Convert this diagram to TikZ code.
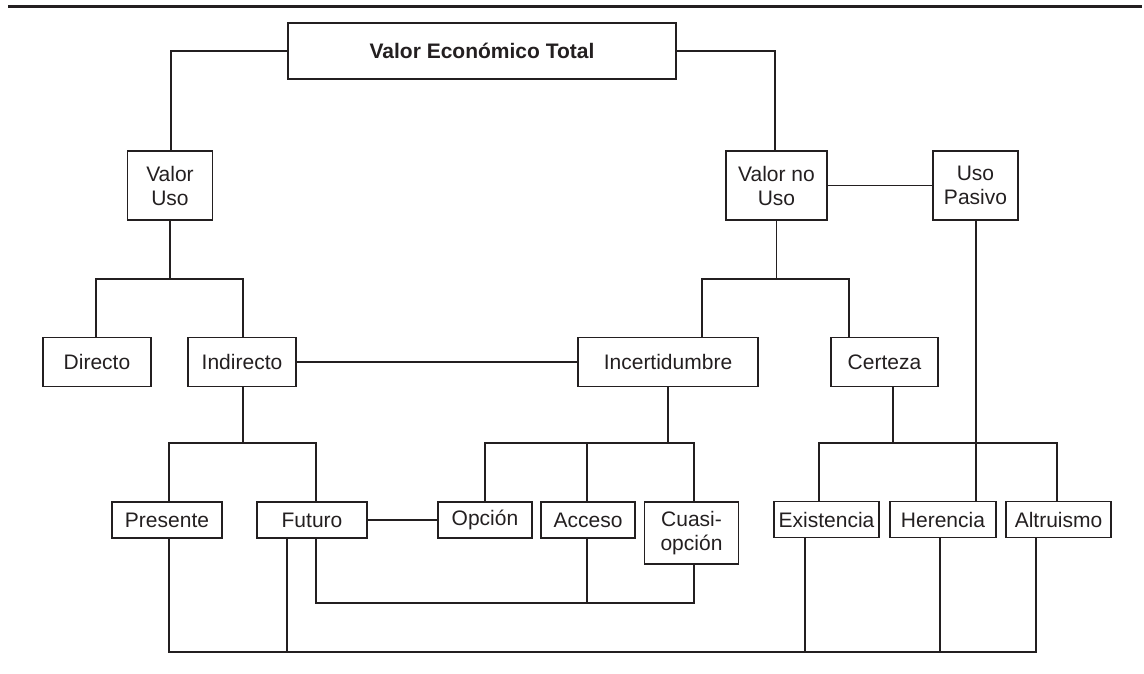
\documentclass[tikz,border=0pt]{standalone}
\usepackage{fontspec}
\setmainfont{Liberation Sans}
\definecolor{ink}{HTML}{231F20}
\begin{document}
\begin{tikzpicture}[x=1pt,y=-1pt,
  box/.style={draw=ink, line width=1.6pt, rectangle, inner sep=0pt, align=center, text=ink,
              font=\fontsize{21}{24}\selectfont},
  conn/.style={draw=ink, line width=1.6pt, line join=miter},
  rule/.style={draw=ink, line width=3pt}]
\useasboundingbox (0,0) rectangle (1144,674);
% top rule
\coordinate (r1) at (8,7);
\coordinate (r2) at (1142,7);
\draw[rule] (r1) -- (r2);
% nodes
\node[box, minimum width=388pt, minimum height=56pt, font=\bfseries\fontsize{21}{24}\selectfont] (vet) at (482,51) {Valor Económico Total};
\node[box, minimum width=85pt, minimum height=69pt] (vuso) at (170,185.5) {Valor\\Uso};
\node[box, minimum width=101pt, minimum height=69pt] (vnouso) at (776.5,185.5) {Valor no\\Uso};
\node[box, minimum width=85pt, minimum height=69pt] (upasivo) at (975.5,185.5) {Uso\\Pasivo};
\node[box, minimum width=108pt, minimum height=49pt] (directo) at (97,362) {Directo};
\node[box, minimum width=108pt, minimum height=49pt] (indirecto) at (242,362) {Indirecto};
\node[box, minimum width=180pt, minimum height=49pt] (incert) at (668,362) {Incertidumbre};
\node[box, minimum width=107pt, minimum height=49pt] (certeza) at (884.5,362) {Certeza};
\node[box, minimum width=110pt, minimum height=36pt] (presente) at (167,520) {Presente};
\node[box, minimum width=110pt, minimum height=36pt] (futuro) at (312,520) {Futuro};
\node[box, minimum width=94pt, minimum height=36pt] (opcion) at (485,520) {Opción};
\node[box, minimum width=94pt, minimum height=36pt] (acceso) at (588,520) {Acceso};
\node[box, minimum width=94pt, minimum height=62pt] (cuasi) at (691.5,533) {Cuasi-\\opción};
\node[box, minimum width=105pt, minimum height=36pt] (existencia) at (826.5,519.5) {Existencia};
\node[box, minimum width=106pt, minimum height=36pt] (herencia) at (943,519.5) {Herencia};
\node[box, minimum width=105pt, minimum height=36pt] (altruismo) at (1058.5,519.5) {Altruismo};
% junction coordinates
\coordinate (jl) at (171,51);
\coordinate (jr) at (775,51);
\coordinate (a1) at (96,279);
\coordinate (a2) at (243,279);
\coordinate (b1) at (702,279);
\coordinate (b2) at (849,279);
\coordinate (c1) at (169,443);
\coordinate (c2) at (316,443);
\coordinate (d1) at (485,443);
\coordinate (d2) at (587,443);
\coordinate (d3) at (694,443);
\coordinate (k1) at (893,443);
\coordinate (e1) at (819,443);
\coordinate (e2) at (976,443);
\coordinate (e3) at (1057,443);
\coordinate (f1) at (316,603);
\coordinate (f2) at (587,603);
\coordinate (f3) at (694,603);
\coordinate (g1) at (169,652);
\coordinate (g2) at (287,652);
\coordinate (g3) at (805,652);
\coordinate (g4) at (940,652);
\coordinate (g5) at (1036,652);
% level 1
\draw[conn] (vet.west) -- (jl) -- (jl |- vuso.north);
\draw[conn] (vet.east) -- (jr) -- (jr |- vnouso.north);
\draw[conn] (vnouso) -- (upasivo);
% level 2
\draw[conn] (vuso.south) -- (vuso.south |- a1);
\draw[conn] (a1 |- directo.north) -- (a1) -- (a2) -- (a2 |- indirecto.north);
\draw[conn] (vnouso.south) -- (vnouso.south |- b1);
\draw[conn] (b1 |- incert.north) -- (b1) -- (b2) -- (b2 |- certeza.north);
\draw[conn] (indirecto) -- (incert);
% level 3
\draw[conn] (indirecto.south -| a2) -- (a2 |- c1);
\draw[conn] (c1 |- presente.north) -- (c1) -- (c2) -- (c2 |- futuro.north);
\draw[conn] (incert.south) -- (incert.south |- d1);
\draw[conn] (d1 |- opcion.north) -- (d1) -- (d3) -- (d3 |- cuasi.north);
\draw[conn] (d2) -- (d2 |- acceso.north);
\draw[conn] (k1 |- certeza.south) -- (k1);
\draw[conn] (e1 |- existencia.north) -- (e1) -- (e3) -- (e3 |- altruismo.north);
\draw[conn] (e2 |- upasivo.south) -- (e2 |- herencia.north);
\draw[conn] (futuro) -- (opcion);
% bottom loops
\draw[conn] (f1 |- futuro.south) -- (f1) -- (f3) -- (f3 |- cuasi.south);
\draw[conn] (f2 |- acceso.south) -- (f2);
\draw[conn] (g1 |- presente.south) -- (g1) -- (g5) -- (g5 |- altruismo.south);
\draw[conn] (g2 |- futuro.south) -- (g2);
\draw[conn] (g3 |- existencia.south) -- (g3);
\draw[conn] (g4 |- herencia.south) -- (g4);
\end{tikzpicture}
\end{document}
